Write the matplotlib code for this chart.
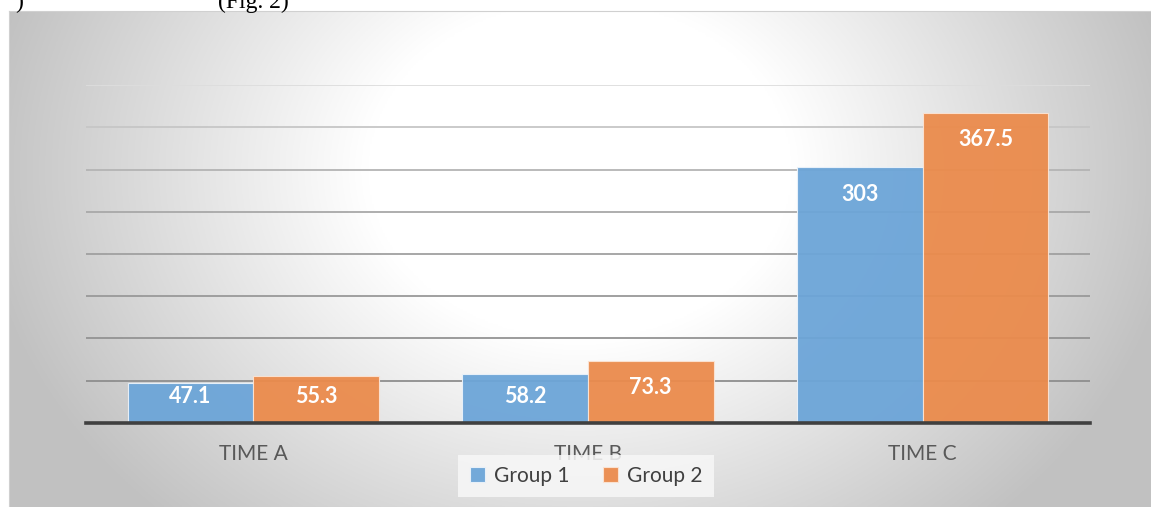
import numpy as np
import matplotlib
matplotlib.use("Agg")
import matplotlib.pyplot as plt

# data
categories = ["TIME A", "TIME B", "TIME C"]
group1 = [47.1, 58.2, 303]
group2 = [55.3, 73.3, 367.5]
series_names = ["Group 1", "Group 2"]

plt.rcParams["font.family"] = ["Lato", "DejaVu Sans"]

W, H = 1151, 507
fig = plt.figure(figsize=(W / 100, H / 100), dpi=100)
fig.patch.set_facecolor("white")

# clipped caption text from the page above the chart
fig.text(15 / W, 1 - 2 / H, ")", family="Liberation Serif", fontsize=17,
         va="center", color="black")
fig.text(218 / W, 1 - 2 / H, "(Fig. 2)", family="Liberation Serif", fontsize=17,
         va="center", color="black")

# chart area with radial gradient background
bg = fig.add_axes([9 / W, 0, (W - 9) / W, (H - 11) / H], zorder=0)
ny, nx = 300, 700
xx, yy = np.meshgrid(np.linspace(9, W, nx), np.linspace(11, H, ny))
r = np.hypot((xx - 580) / 1.25, (yy - 170) / 1.0)
t = np.clip((r - 170) / 310, 0, 1)
shade = 1.0 - 0.24 * t
img = np.dstack([shade, shade, shade])
bg.imshow(img, aspect="auto", extent=[0, 1, 0, 1], origin="upper")
bg.set_xticks([])
bg.set_yticks([])
for s in bg.spines.values():
    s.set_color("#D0D0D0")
    s.set_linewidth(0.8)

# plot area
ax = fig.add_axes([86 / W, (H - 422.7) / H, (1090 - 86) / W, (422.7 - 85.3) / H], zorder=1)
ax.patch.set_alpha(0)
x = np.arange(len(categories))
bw = 0.375
b1 = ax.bar(x - bw / 2, group1, bw, color="#6CA5D8", edgecolor="#EAF2FA",
            linewidth=0.8, alpha=0.95, zorder=2, label=series_names[0])
b2 = ax.bar(x + bw / 2, group2, bw, color="#EB8B4C", edgecolor="#FBE3D3",
            linewidth=0.8, alpha=0.95, zorder=2, label=series_names[1])

ax.set_xlim(-0.5, 2.5)
ax.set_ylim(0, 400)
ax.set_yticks(np.arange(50, 401, 50))
ax.yaxis.grid(True, linewidth=1.3, zorder=1)
grid_cols = ["#8E8E8E", "#939393", "#999999", "#A0A0A0", "#A8A8A8", "#B4B4B4", "#C6C6C6", "#DDDDDD"]
for gl, c in zip(ax.get_ygridlines(), grid_cols):
    gl.set_color(c)
ax.set_axisbelow(True)
ax.tick_params(axis="y", left=False, labelleft=False)
ax.tick_params(axis="x", bottom=False, pad=12)
ax.set_xticks(x)
ax.set_xticklabels(categories, fontsize=15, color="#595959")
for name, s in ax.spines.items():
    if name == "bottom":
        s.set_color("#404040")
        s.set_linewidth(2.6)
        s.set_zorder(3)
    else:
        s.set_visible(False)

# data labels: inside end, kept inside short bars
for bars, vals in ((b1, group1), (b2, group2)):
    for rect, v in zip(bars, vals):
        ly = max(v - 32, 31)
        ax.text(rect.get_x() + rect.get_width() / 2, ly, f"{v:g}",
                ha="center", va="center", color="white", fontsize=15.5,
                fontweight="bold", zorder=4)

leg = fig.legend(handles=[b1, b2], labels=series_names, loc="center",
                 bbox_to_anchor=(586 / W, 1 - 476 / H), ncol=2, fontsize=15,
                 frameon=True, facecolor="#F7F7F7", framealpha=0.85,
                 edgecolor="none", fancybox=False, handlelength=0.75,
                 handleheight=0.75, handletextpad=0.4, columnspacing=1.6,
                 borderpad=0.55, borderaxespad=0)
for txt in leg.get_texts():
    txt.set_color("#404040")
leg.set_zorder(5)

fig.savefig("out.png", dpi=100)
